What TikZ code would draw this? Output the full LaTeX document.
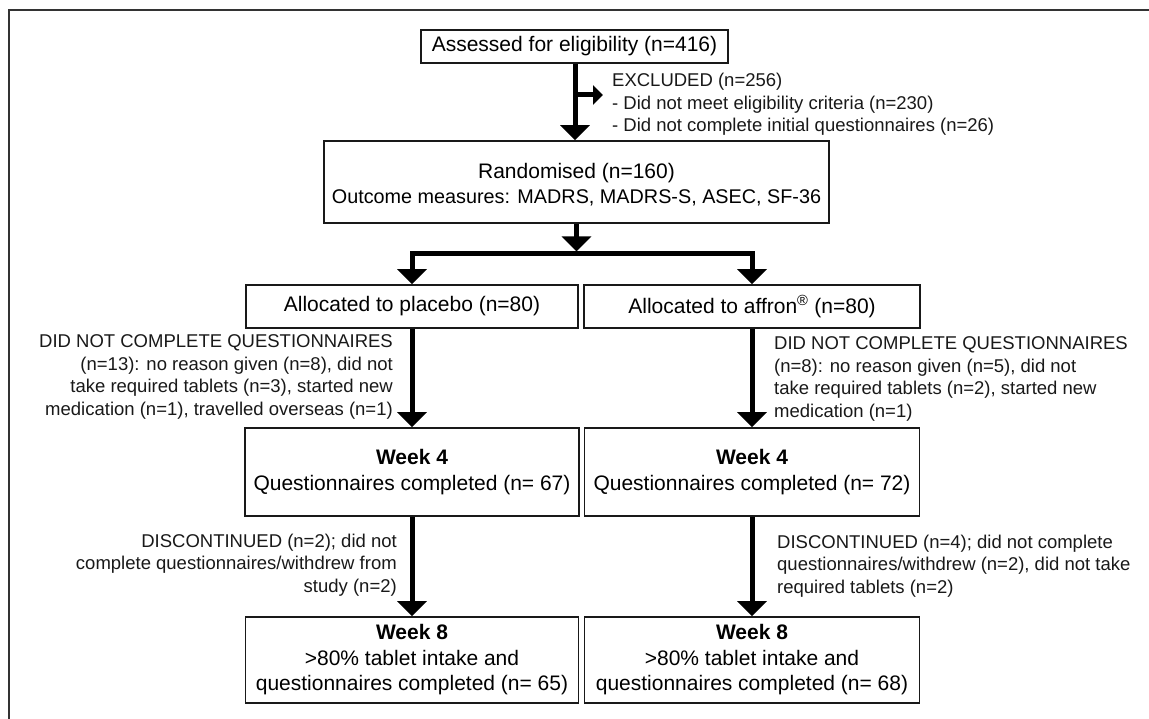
\documentclass[tikz,border=0pt]{standalone}
\usepackage{fontspec}
\setmainfont{Liberation Sans}
\usetikzlibrary{arrows.meta}
\newcommand\boxfnt{\fontsize{21}{25.5}\selectfont}
\newcommand\annfnt{\fontsize{18.5}{22.5}\selectfont}
\tikzset{
 fbox/.style={draw=black!90, line width=1.8pt, font=\boxfnt, align=center, inner sep=2pt, text=black},
 ann/.style={font=\annfnt, inner sep=0pt, text=black!90},
 conn/.style={line width=5pt, draw=black},
 bigtip/.style={-{Triangle[width=29pt,length=15pt]}},
 smalltip/.style={-{Triangle[width=19pt,length=10pt]}},
 bothtips/.style={{Triangle[width=29pt,length=15pt]}-{Triangle[width=29pt,length=15pt]}},
}
\begin{document}
\begin{tikzpicture}[x=1pt,y=-1pt]
\useasboundingbox (0,0) rectangle (1149,719);
\fill[white] (0,0) rectangle (1149,719);
% outer frame (cropped)
\draw[line width=2pt, black!80] (8.5,719) -- (8.5,10.5) -- (1149,10.5);

% boxes
\node[fbox, minimum width=307pt, minimum height=33pt] (assess) at (574.5,46.5) {Assessed for eligibility (n=416)};
\node[fbox, minimum width=505pt, minimum height=82pt] (rand) at (576.5,182) {\rule{0pt}{21pt}Randomised (n=160)\\{\fontsize{19.8}{24}\selectfont Outcome measures: MADRS, MADRS-S, ASEC, SF-36}};
\node[fbox, minimum width=332pt, minimum height=43pt] (plac) at (412,306.5) {Allocated to placebo (n=80)};
\node[fbox, minimum width=336pt, minimum height=43pt] (affr) at (752,306.5) {Allocated to affron\textsuperscript{®} (n=80)};
\node[fbox, minimum width=334pt, minimum height=88pt] (wfourL) at (412,472) {\textbf{Week 4}\\Questionnaires completed (n= 67)};
\node[fbox, minimum width=335pt, minimum height=88pt] (wfourR) at (752,472) {\textbf{Week 4}\\Questionnaires completed (n= 72)};
\node[fbox, minimum width=333pt, minimum height=86pt] (weightL) at (412,660) {\textbf{Week 8}\\>80\% tablet intake and\\questionnaires completed (n= 65)};
\node[fbox, minimum width=335pt, minimum height=86pt] (weightR) at (752,660) {\textbf{Week 8}\\>80\% tablet intake and\\questionnaires completed (n= 68)};

% annotations
\node[ann, anchor=west, align=left] (excl) at (612,104.5) {EXCLUDED (n=256)\\- Did not meet eligibility criteria (n=230)\\- Did not complete initial questionnaires (n=26)};
\node[ann, anchor=east, align=right] (dncL) at (393,377) {DID NOT COMPLETE QUESTIONNAIRES\\(n=13): no reason given (n=8), did not\\take required tablets (n=3), started new\\medication (n=1), travelled overseas (n=1)};
\node[ann, anchor=west, align=left] (dncR) at (774,379) {DID NOT COMPLETE QUESTIONNAIRES\\(n=8): no reason given (n=5), did not\\take required tablets (n=2), started new\\medication (n=1)};
\node[ann, anchor=east, align=right] (discL) at (397,565) {DISCONTINUED (n=2); did not\\complete questionnaires/withdrew from\\study (n=2)};
\node[ann, anchor=west, align=left] (discR) at (777,566) {DISCONTINUED (n=4); did not complete\\questionnaires/withdrew (n=2), did not take\\required tablets (n=2)};

% connectors
\coordinate (brA) at (575,95);
\coordinate (brB) at (603,95);
\coordinate (split) at (576.5,254);
\coordinate (splittop) at (576.5,251.5);
\draw[conn, bigtip] (assess.south -| brA) -- (brA |- rand.north);
\draw[conn, smalltip] (brA) -- (brB);
\draw[conn, bigtip] (rand.south) -- (splittop);
\draw[conn, bothtips] (plac.north) |- (split) -| (affr.north);
\draw[conn, bigtip] (plac.south) -- (wfourL.north);
\draw[conn, bigtip] (affr.south) -- (wfourR.north);
\draw[conn, bigtip] (wfourL.south) -- (weightL.north);
\draw[conn, bigtip] (wfourR.south) -- (weightR.north);
\end{tikzpicture}
\end{document}
